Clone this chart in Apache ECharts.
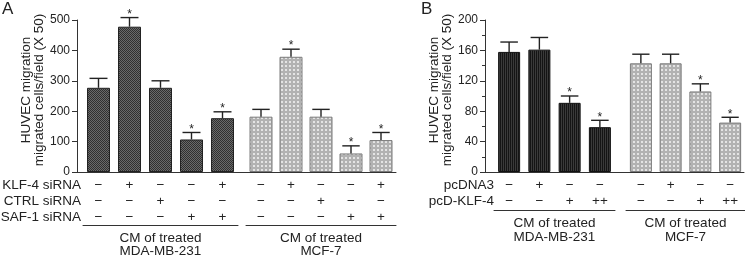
<!DOCTYPE html>
<html>
<head>
<meta charset="utf-8">
<script src="https://cdn.jsdelivr.net/npm/echarts@6/dist/echarts.min.js"></script>
<style>
html, body { margin: 0; background: #fff; }
#chart { width: 745px; height: 256px; }
</style>
</head>
<body>
<div id="chart"></div>
<script>
// panel A - siRNA treatments (same rows for both cell lines)
var klfA = ['−', '+', '−', '−', '+'];
var ctrlA = ['−', '−', '+', '−', '−'];
var safA = ['−', '−', '−', '+', '+'];
var mdaA = [277, 478, 277, 107, 177];
var mdaAErr = [31, 30, 23, 23, 21];
var mcfA = [182, 379, 182, 61, 105];
var mcfAErr = [24, 25, 24, 25, 25];
var sigA = [0, 1, 0, 1, 1];

// panel B - overexpression
var pcdna = ['−', '+', '−', '−'];
var pcdklf = ['−', '−', '+', '++'];
var mdaB = [158, 161, 91, 59];
var mdaBErr = [13, 16, 9, 9];
var mcfB = [143, 143, 106, 65];
var mcfBErr = [12, 12, 10, 7];
var sigB = [0, 0, 1, 1];

var yNameA = 'HUVEC migration\nmigrated cells/field (X 50)';
var groupMda = 'CM of treated\nMDA-MB-231';
var groupMcf = 'CM of treated\nMCF-7';

var FONT = '"Liberation Sans", Arial, sans-serif';
var TXT = '#222';

function tile(w, h, draw) {
  var c = document.createElement('canvas');
  c.width = w; c.height = h;
  draw(c.getContext('2d'));
  return { image: c, repeat: 'repeat' };
}
// dark checker (A), light dotted (both), black striped (B)
var darkA = tile(2, 2, function (g) {
  g.fillStyle = '#6a6a6a'; g.fillRect(0, 0, 2, 2);
  g.fillStyle = '#303030'; g.fillRect(0, 0, 1, 1); g.fillRect(1, 1, 1, 1);
});
var light = tile(4, 4, function (g) {
  g.fillStyle = '#b2b2b2'; g.fillRect(0, 0, 4, 4);
  g.fillStyle = '#e4e4e4'; g.fillRect(1, 1, 2, 2);
});
var darkB = tile(2, 1, function (g) {
  g.fillStyle = '#141414'; g.fillRect(0, 0, 1, 1);
  g.fillStyle = '#3a3a3a'; g.fillRect(1, 0, 1, 1);
});

function idx(n) { var a = []; for (var i = 0; i < n; i++) a.push(String(i)); return a; }

function errRender(params, api) {
  var x = api.value(0), v = api.value(1), e = api.value(2), s = api.value(3);
  var p0 = api.coord([x, v]);
  var p1 = api.coord([x, v + e]);
  var hw = api.size([1, 0])[0] * 0.29;
  var st = { stroke: '#222', lineWidth: 1.4 };
  var ch = [
    { type: 'line', shape: { x1: p0[0], y1: p0[1], x2: p1[0], y2: p1[1] }, style: st },
    { type: 'line', shape: { x1: p1[0] - hw, y1: p1[1], x2: p1[0] + hw, y2: p1[1] }, style: st }
  ];
  if (s) {
    ch.push({
      type: 'text', x: p1[0], y: p1[1] + 3,
      style: { text: '*', align: 'center', verticalAlign: 'bottom', textAlign: 'center', textVerticalAlign: 'bottom',
        fontSize: 12, fontFamily: FONT, fill: TXT }
    });
  }
  return { type: 'group', children: ch };
}

function errData(vals, errs, sig) {
  return vals.map(function (v, i) { return [i, v, errs[i], sig[i]]; });
}

function rowAxis(grid, n, fmt) {
  return {
    type: 'category', gridIndex: grid, data: idx(n),
    axisLine: { show: false }, axisTick: { show: false },
    axisLabel: { interval: 0, margin: 5, fontSize: 13.5, lineHeight: 16, fontFamily: FONT, color: TXT, formatter: fmt }
  };
}
function groupAxis(grid, n, offset, name, lh, gap) {
  return {
    type: 'category', gridIndex: grid, data: idx(n), position: 'bottom', offset: offset,
    axisLine: { show: true, lineStyle: { color: '#333', width: 1 } },
    axisTick: { show: false }, axisLabel: { show: false },
    name: name, nameLocation: 'middle', nameGap: gap,
    nameTextStyle: { fontSize: 13.5, lineHeight: lh, fontFamily: FONT, color: TXT }
  };
}
function baseAxis(grid) {
  return {
    type: 'value', gridIndex: grid, min: 0, max: 1,
    axisLine: { show: true, lineStyle: { color: '#333', width: 1 } },
    axisTick: { show: false }, axisLabel: { show: false }, splitLine: { show: false }
  };
}
function hiddenY(grid, max) {
  return { type: 'value', gridIndex: grid, min: 0, max: max, show: false, splitLine: { show: false } };
}
function visibleY(grid, max, interval, minor) {
  return {
    type: 'value', gridIndex: grid, min: 0, max: max, interval: interval,
    axisLine: { show: true, lineStyle: { color: '#333', width: 1 } },
    axisTick: { show: true, length: 5, lineStyle: { color: '#333' } },
    minorTick: { show: minor, splitNumber: 2, length: 3, lineStyle: { color: '#333' } },
    axisLabel: { fontSize: 12, margin: 7, fontFamily: FONT, color: TXT },
    splitLine: { show: false },
    name: yNameA, nameLocation: 'middle', nameGap: 31,
    nameTextStyle: { fontSize: 13.5, lineHeight: 12.5, fontFamily: FONT, color: TXT, padding: [0, 0, 0, 12] }
  };
}
function bars(xi, yi, vals, color, border, w) {
  return {
    type: 'bar', xAxisIndex: xi, yAxisIndex: yi, data: vals, barWidth: w,
    itemStyle: { color: color, borderColor: border, borderWidth: 1 }, silent: true
  };
}
function errs(xi, yi, vals, e, sig) {
  return { type: 'custom', xAxisIndex: xi, yAxisIndex: yi, data: errData(vals, e, sig), renderItem: errRender, z: 5, silent: true };
}
function grid(left, width) {
  return { left: left, top: 20, width: width, height: 152, outerBoundsMode: 'none', containLabel: false };
}

var fmtA = function (v, i) { return klfA[i] + '\n' + ctrlA[i] + '\n' + safA[i]; };
var fmtB = function (v, i) { return pcdna[i] + '\n' + pcdklf[i]; };

var chart = echarts.init(document.getElementById('chart'));
chart.setOption({
  animation: false,
  textStyle: { fontFamily: FONT },
  grid: [
    grid(77, 319), grid(83, 155), grid(246, 150),
    grid(485, 259), grid(494, 121), grid(626, 119)
  ],
  xAxis: [
    baseAxis(0),
    rowAxis(1, 5, fmtA), groupAxis(1, 5, 53, groupMda, 13, 6.5),
    rowAxis(2, 5, fmtA), groupAxis(2, 5, 53, groupMcf, 13, 6.5),
    baseAxis(3),
    rowAxis(4, 4, fmtB), groupAxis(4, 4, 38, groupMda, 14, 6),
    rowAxis(5, 4, fmtB), groupAxis(5, 4, 38, groupMcf, 14, 6)
  ],
  yAxis: [
    visibleY(0, 500, 100, false), hiddenY(1, 500), hiddenY(2, 500),
    visibleY(3, 200, 40, true), hiddenY(4, 200), hiddenY(5, 200)
  ],
  series: [
    bars(1, 1, mdaA, darkA, '#222', 23), errs(1, 1, mdaA, mdaAErr, sigA),
    bars(3, 2, mcfA, light, '#7a7a7a', 23), errs(3, 2, mcfA, mcfAErr, sigA),
    bars(6, 4, mdaB, darkB, '#111', 22), errs(6, 4, mdaB, mdaBErr, sigB),
    bars(8, 5, mcfB, light, '#7a7a7a', 22), errs(8, 5, mcfB, mcfBErr, sigB)
  ],
  graphic: [
    { type: 'text', left: 2, top: 1, style: { text: 'A', fontSize: 17, fontFamily: FONT, fill: TXT } },
    { type: 'text', left: 421, top: 1, style: { text: 'B', fontSize: 17, fontFamily: FONT, fill: TXT } },
    { type: 'text', x: 81, y: 185, style: { text: 'KLF-4 siRNA', align: 'right', verticalAlign: 'middle', fontSize: 13.5, fontFamily: FONT, fill: TXT } },
    { type: 'text', x: 81, y: 201, style: { text: 'CTRL siRNA', align: 'right', verticalAlign: 'middle', fontSize: 13.5, fontFamily: FONT, fill: TXT } },
    { type: 'text', x: 81, y: 217, style: { text: 'SAF-1 siRNA', align: 'right', verticalAlign: 'middle', fontSize: 13.5, fontFamily: FONT, fill: TXT } },
    { type: 'text', x: 494, y: 185, style: { text: 'pcDNA3', align: 'right', verticalAlign: 'middle', fontSize: 13.5, fontFamily: FONT, fill: TXT } },
    { type: 'text', x: 494, y: 201, style: { text: 'pcD-KLF-4', align: 'right', verticalAlign: 'middle', fontSize: 13.5, fontFamily: FONT, fill: TXT } }
  ]
});
</script>
</body>
</html>
